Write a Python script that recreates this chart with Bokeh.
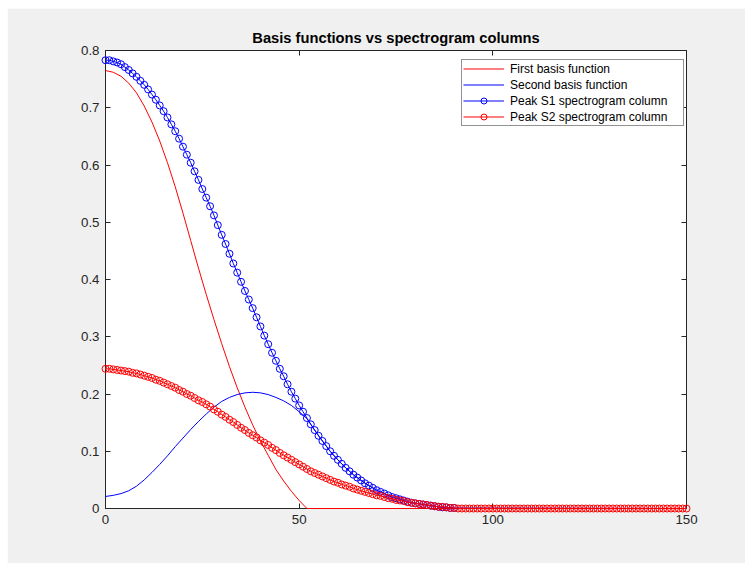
from bokeh.plotting import figure
from bokeh.models import (Range1d, FixedTicker, LinearAxis, Legend, LegendItem)
from bokeh.embed import file_html
from bokeh.resources import INLINE

# ---- data -------------------------------------------------------------
# First basis function (sampled every 2 bins, flat at zero past bin 52)
basis1_x = [0, 2, 4, 6, 8, 10, 12, 14, 16, 18, 20, 22, 24, 26, 28, 30, 32,
            34, 36, 38, 40, 42, 44, 46, 48, 50, 52, 150]
basis1_y = [0.765, 0.762, 0.755, 0.743, 0.726, 0.703, 0.675, 0.642, 0.604,
            0.562, 0.516, 0.468, 0.420, 0.374, 0.330, 0.288, 0.248, 0.211,
            0.177, 0.146, 0.118, 0.093, 0.068, 0.048, 0.030, 0.014, 0.0, 0.0]

# Second basis function
basis2_x = [0, 2, 4, 6, 8, 10, 12, 14, 16, 18, 20, 22, 24, 26, 28, 30, 32,
            34, 36, 38, 40, 42, 44, 46, 48, 50, 52, 54, 56, 58, 60, 62, 64,
            66, 68, 70, 72, 74, 76, 78, 80, 82, 84, 86, 88, 90, 150]
basis2_y = [0.021, 0.023, 0.026, 0.031, 0.039, 0.050, 0.063, 0.077, 0.092,
            0.108, 0.123, 0.138, 0.152, 0.165, 0.177, 0.187, 0.194, 0.199,
            0.202, 0.203, 0.202, 0.199, 0.194, 0.188, 0.180, 0.169, 0.157,
            0.137, 0.118, 0.100, 0.085, 0.071, 0.059, 0.049, 0.040, 0.032,
            0.026, 0.020, 0.016, 0.012, 0.009, 0.007, 0.005, 0.003, 0.002,
            0.001, 0.0]

# Peak S1 spectrogram column, bins 0..90
s1_x = list(range(91))
s1_y = [0.783, 0.783, 0.781, 0.779, 0.776, 0.771, 0.766, 0.760, 0.754, 0.747,
        0.740, 0.732, 0.723, 0.714, 0.704, 0.694, 0.683, 0.671, 0.659, 0.646,
        0.632, 0.618, 0.604, 0.589, 0.574, 0.558, 0.543, 0.528, 0.512, 0.495,
        0.478, 0.462, 0.445, 0.428, 0.412, 0.396, 0.380, 0.365, 0.350, 0.334,
        0.318, 0.302, 0.287, 0.272, 0.258, 0.244, 0.231, 0.217, 0.204, 0.192,
        0.180, 0.169, 0.158, 0.147, 0.137, 0.127, 0.118, 0.109, 0.100, 0.092,
        0.085, 0.078, 0.071, 0.065, 0.059, 0.054, 0.049, 0.044, 0.040, 0.036,
        0.032, 0.029, 0.026, 0.023, 0.020, 0.018, 0.016, 0.014, 0.012, 0.010,
        0.009, 0.008, 0.007, 0.006, 0.005, 0.004, 0.003, 0.002, 0.002, 0.001,
        0.001]

# Peak S2 spectrogram column, bins 0..150
s2_x = list(range(151))
s2_y = [0.244, 0.244, 0.243, 0.242, 0.241, 0.240, 0.239, 0.237, 0.236, 0.234,
        0.232, 0.230, 0.228, 0.225, 0.223, 0.220, 0.217, 0.214, 0.211, 0.207,
        0.204, 0.200, 0.197, 0.193, 0.189, 0.186, 0.182, 0.178, 0.173, 0.169,
        0.164, 0.160, 0.155, 0.151, 0.146, 0.141, 0.137, 0.132, 0.128, 0.124,
        0.119, 0.115, 0.111, 0.106, 0.102, 0.097, 0.093, 0.089, 0.085, 0.081,
        0.077, 0.073, 0.069, 0.065, 0.062, 0.059, 0.056, 0.053, 0.050, 0.047,
        0.045, 0.042, 0.040, 0.038, 0.035, 0.033, 0.031, 0.029, 0.027, 0.025,
        0.023, 0.022, 0.020, 0.018, 0.017, 0.015, 0.014, 0.013, 0.011, 0.010,
        0.009, 0.008, 0.007, 0.006, 0.005, 0.004, 0.003, 0.003, 0.002, 0.001,
        0.001, 0.0, 0.0, 0.0, 0.0, 0.0, 0.0, 0.0, 0.0, 0.0,
        0.0, 0.0, 0.0, 0.0, 0.0, 0.0, 0.0, 0.0, 0.0, 0.0,
        0.0, 0.0, 0.0, 0.0, 0.0, 0.0, 0.0, 0.0, 0.0, 0.0,
        0.0, 0.0, 0.0, 0.0, 0.0, 0.0, 0.0, 0.0, 0.0, 0.0,
        0.0, 0.0, 0.0, 0.0, 0.0, 0.0, 0.0, 0.0, 0.0, 0.0,
        0.0, 0.0, 0.0, 0.0, 0.0, 0.0, 0.0, 0.0, 0.0, 0.0,
        0.0]

x_ticks = [0, 50, 100, 150]
y_ticks = [0, 0.1, 0.2, 0.3, 0.4, 0.5, 0.6, 0.7, 0.8]
x_tick_labels = {0: "0", 50: "50", 100: "100", 150: "150"}
y_tick_labels = {0: "0", 0.1: "0.1", 0.2: "0.2", 0.3: "0.3", 0.4: "0.4",
                 0.5: "0.5", 0.6: "0.6", 0.7: "0.7", 0.8: "0.8"}

TITLE = "Basis functions vs spectrogram columns"

# ---- styling ----------------------------------------------------------
FONT = "Liberation Sans"
AX = "#262626"
RED = "#ff0000"
BLUE = "#0000ff"

p = figure(width=738, height=555,
           x_range=Range1d(0, 150), y_range=Range1d(0, 0.8),
           output_backend="svg", toolbar_location=None,
           margin=(8, 0, 2, 7),
           min_border_left=98, min_border_right=59,
           min_border_top=42, min_border_bottom=55)

p.border_fill_color = "#f0f0f0"
p.background_fill_color = "white"
p.outline_line_color = AX
p.outline_line_width = 1
p.xgrid.visible = False
p.ygrid.visible = False

p.title.text = TITLE
p.title.align = "center"
p.title.text_font = FONT
p.title.text_font_size = "14.7px"
p.title.text_font_style = "bold"
p.title.text_color = "black"
p.title.standoff = 9


def style_axis(ax, ticks, labels=None):
    ax.ticker = FixedTicker(ticks=ticks)
    ax.minor_tick_line_color = None
    ax.major_tick_in = 5
    ax.major_tick_out = 0
    ax.major_tick_line_color = AX
    ax.axis_line_color = AX
    ax.major_label_text_font = FONT
    if labels is not None:
        ax.major_label_overrides = labels
        ax.major_label_text_color = AX
        ax.major_label_text_font_size = "13.3px"
        ax.major_label_standoff = 6
    else:
        # mirror axis: ticks only, no labels painted
        ax.major_label_text_color = None
        ax.major_label_text_font_size = "1px"
        ax.major_label_standoff = 0


style_axis(p.xaxis[0], x_ticks, x_tick_labels)
style_axis(p.yaxis[0], y_ticks, y_tick_labels)

top_axis = LinearAxis()
style_axis(top_axis, x_ticks)
p.add_layout(top_axis, "above")
right_axis = LinearAxis()
style_axis(right_axis, y_ticks)
p.add_layout(right_axis, "right")

# ---- glyphs -----------------------------------------------------------
r_b1 = p.line(basis1_x, basis1_y, line_color=RED, line_width=1)
r_b2 = p.line(basis2_x, basis2_y, line_color=BLUE, line_width=1)
r_s1l = p.line(s1_x, s1_y, line_color=BLUE, line_width=1)
r_s1m = p.scatter(s1_x, s1_y, marker="circle", size=7, fill_color=None,
                  line_color=BLUE, line_width=1)
r_s2l = p.line(s2_x, s2_y, line_color=RED, line_width=1)
r_s2m = p.scatter(s2_x, s2_y, marker="circle", size=7, fill_color=None,
                  line_color=RED, line_width=1)
for r in (r_b1, r_b2, r_s1l, r_s1m, r_s2l, r_s2m):
    r.level = "annotation"

legend = Legend(items=[
    LegendItem(label="First basis function", renderers=[r_b1]),
    LegendItem(label="Second basis function", renderers=[r_b2]),
    LegendItem(label="Peak S1 spectrogram column", renderers=[r_s1l, r_s1m]),
    LegendItem(label="Peak S2 spectrogram column", renderers=[r_s2l, r_s2m]),
])
legend.location = (356, 382)
legend.margin = 0
legend.padding = 1
legend.spacing = 1
legend.glyph_width = 41
legend.glyph_height = 15
legend.label_height = 15
legend.label_width = 172
legend.label_standoff = 6
legend.label_text_font = FONT
legend.label_text_font_size = "12px"
legend.label_text_color = "black"
legend.border_line_color = AX
legend.border_line_width = 1
legend.background_fill_color = "white"
legend.background_fill_alpha = 1.0
p.add_layout(legend, "center")

open("out.html", "w").write(file_html(p, INLINE))
